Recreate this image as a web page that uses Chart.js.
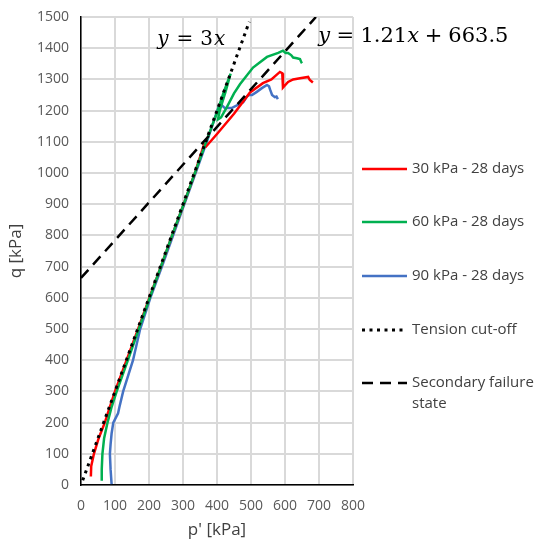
<!DOCTYPE html>
<html>
<head>
<meta charset="utf-8">
<script src="https://cdn.jsdelivr.net/npm/chart.js@4.4.0/dist/chart.umd.min.js"></script>
<style>
  html, body { margin: 0; padding: 0; background: #fff; }
</style>
</head>
<body>
<canvas id="chart" width="538" height="543"></canvas>
<script>
// Stress paths p'-q

const xTickValues = [0, 100, 200, 300, 400, 500, 600, 700, 800];
const yTickValues = [0, 100, 200, 300, 400, 500, 600, 700, 800, 900, 1000, 1100, 1200, 1300, 1400, 1500];

// 30 kPa - 28 days
const p30 = [29, 30, 38, 52, 70, 85, 100, 134, 168, 201, 235, 268, 302, 335, 362, 368, 400, 450, 497, 535, 560, 585, 592, 594, 594, 609, 624, 644, 668, 673, 682];
const q30 = [27, 60, 100, 150, 200, 250, 300, 400, 500, 600, 700, 800, 900, 1000, 1092, 1085, 1125, 1190, 1258, 1288, 1300, 1324, 1320, 1310, 1274, 1292, 1300, 1304, 1308, 1298, 1290];

// 60 kPa - 28 days
const p60 = [61, 61, 63, 68, 78, 90, 105, 138, 170, 202, 235, 268, 302, 335, 368, 402, 420, 440, 425, 408, 403, 412, 429, 450, 468, 506, 547, 580, 594, 602, 609, 618, 624, 635, 644, 648, 650];
const q60 = [14, 50, 100, 150, 200, 250, 300, 400, 500, 600, 700, 800, 900, 1000, 1100, 1200, 1260, 1318, 1260, 1200, 1172, 1178, 1211, 1255, 1285, 1338, 1372, 1385, 1392, 1385, 1385, 1378, 1370, 1368, 1365, 1355, 1352];

// 90 kPa - 28 days
const p90 = [90, 87, 85, 87, 90, 95, 109, 113, 124, 153, 174, 204, 238, 271, 304, 337, 370, 404, 410, 423, 443, 477, 488, 495, 503, 517, 532, 547, 553, 556, 562, 570, 575, 579];
const q90 = [3, 50, 100, 130, 165, 200, 230, 250, 300, 400, 500, 600, 700, 800, 900, 1000, 1100, 1210, 1222, 1208, 1208, 1227, 1245, 1250, 1250, 1260, 1272, 1282, 1278, 1268, 1250, 1243, 1245, 1237];

// Tension cut-off: y = 3x
const pTension = [5, 495];
const qTension = [15, 1485];

// Secondary failure state: y = 1.21x + 663.5
const pSecondary = [0, 691];
const qSecondary = [663.5, 1500];

const seriesLabels = [
  ['30 kPa - 28 days'],
  ['60 kPa - 28 days'],
  ['90 kPa - 28 days'],
  ['Tension cut-off'],
  ['Secondary failure', 'state']
];

const GRID_COLOR = '#d9d9d9';

function toPoints(xs, ys) {
  return xs.map((x, i) => ({ x: x, y: ys[i] }));
}

const legendRows = [169, 222, 276, 330, 383];

// legend drawn at the right side, like the Excel one
const sideLegend = {
  id: 'sideLegend',
  afterDraw(chart) {
    const ctx = chart.ctx;
    ctx.save();
    ctx.font = '15px "Open Sans"';
    ctx.fillStyle = '#404040';
    ctx.textBaseline = 'middle';
    chart.data.datasets.forEach((ds, i) => {
      const y = legendRows[i];
      ctx.beginPath();
      ctx.strokeStyle = ds.borderColor;
      ctx.lineWidth = ds.borderWidth;
      ctx.setLineDash(ds.borderDash || []);
      ctx.moveTo(362, y);
      ctx.lineTo(407, y);
      ctx.stroke();
      ctx.setLineDash([]);
      seriesLabels[i].forEach((line, j) => ctx.fillText(line, 412, y + j * 21));
    });
    ctx.restore();
  }
};

// equation labels
function drawMath(ctx, x, y, size, parts) {
  parts.forEach(part => {
    ctx.font = (part.i ? 'italic ' : '') + size + 'px "DejaVu Serif"';
    ctx.fillText(part.t, x, y);
    x += ctx.measureText(part.t).width + (part.gap || 0) * size;
  });
}

const equations = {
  id: 'equations',
  afterDraw(chart) {
    const ctx = chart.ctx;
    const xs = chart.scales.x, ys = chart.scales.y;
    ctx.save();
    ctx.fillStyle = '#000';
    ctx.textBaseline = 'alphabetic';
    drawMath(ctx, xs.getPixelForValue(224), ys.getPixelForValue(1410), 20, [
      { t: 'y', i: true, gap: 0.4 }, { t: '=', gap: 0.35 }, { t: '3', gap: 0.05 }, { t: 'x', i: true }
    ]);
    drawMath(ctx, xs.getPixelForValue(698), ys.getPixelForValue(1421), 21, [
      { t: 'y', i: true, gap: 0.3 }, { t: '=', gap: 0.3 }, { t: '1.21' }, { t: 'x', i: true, gap: 0.28 },
      { t: '+', gap: 0.28 }, { t: '663.5' }
    ]);
    ctx.restore();
  }
};

const ctx = document.getElementById('chart');

new Chart(ctx, {
  type: 'scatter',
  data: {
    datasets: [
      { label: seriesLabels[0][0], data: toPoints(p30, q30), borderColor: '#ff0000', borderWidth: 2.5, order: 4 },
      { label: seriesLabels[1][0], data: toPoints(p60, q60), borderColor: '#00b050', borderWidth: 2.5, order: 3 },
      { label: seriesLabels[2][0], data: toPoints(p90, q90), borderColor: '#4472c4', borderWidth: 2.5, order: 5 },
      { label: seriesLabels[3][0], data: toPoints(pTension, qTension), borderColor: '#000000', borderWidth: 3, borderDash: [3, 4.5], order: 1 },
      { label: seriesLabels[4][0], data: toPoints(pSecondary, qSecondary), borderColor: '#000000', borderWidth: 2.5, borderDash: [11, 7], order: 2 }
    ].map(ds => Object.assign(ds, { showLine: true, pointRadius: 0, fill: false, tension: 0 }))
  },
  options: {
    responsive: false,
    animation: false,
    layout: { padding: { top: 17, right: 185, left: 0, bottom: 0 } },
    plugins: {
      legend: { display: false },
      tooltip: { enabled: false }
    },
    scales: {
      x: {
        type: 'linear',
        min: xTickValues[0],
        max: xTickValues[xTickValues.length - 1],
        afterFit: s => { s.height = 58; },
        grid: { color: GRID_COLOR, lineWidth: 2, tickLength: 8, tickColor: 'rgba(0,0,0,0)' },
        border: { color: '#000', width: 1.5 },
        ticks: {
          stepSize: xTickValues[1] - xTickValues[0],
          callback: v => String(v),
          color: '#595959', font: { family: 'Open Sans', size: 14 }, padding: 5, maxRotation: 0
        },
        title: { display: true, text: "p' [kPa]", color: '#404040', font: { family: 'Open Sans', size: 17 }, padding: { top: 0, bottom: 3 } }
      },
      y: {
        type: 'linear',
        min: yTickValues[0],
        max: yTickValues[yTickValues.length - 1],
        afterFit: s => { s.width = 81; },
        grid: { color: GRID_COLOR, lineWidth: 2, tickLength: 8, tickColor: 'rgba(0,0,0,0)' },
        border: { color: '#000', width: 1.5 },
        ticks: {
          stepSize: yTickValues[1] - yTickValues[0],
          callback: v => String(v),
          color: '#595959', font: { family: 'Open Sans', size: 14 }, padding: 4
        },
        title: { display: true, text: 'q [kPa]', color: '#404040', font: { family: 'Open Sans', size: 17 }, padding: { top: 6, bottom: 0 } }
      }
    }
  },
  plugins: [sideLegend, equations]
});
</script>
</body>
</html>
